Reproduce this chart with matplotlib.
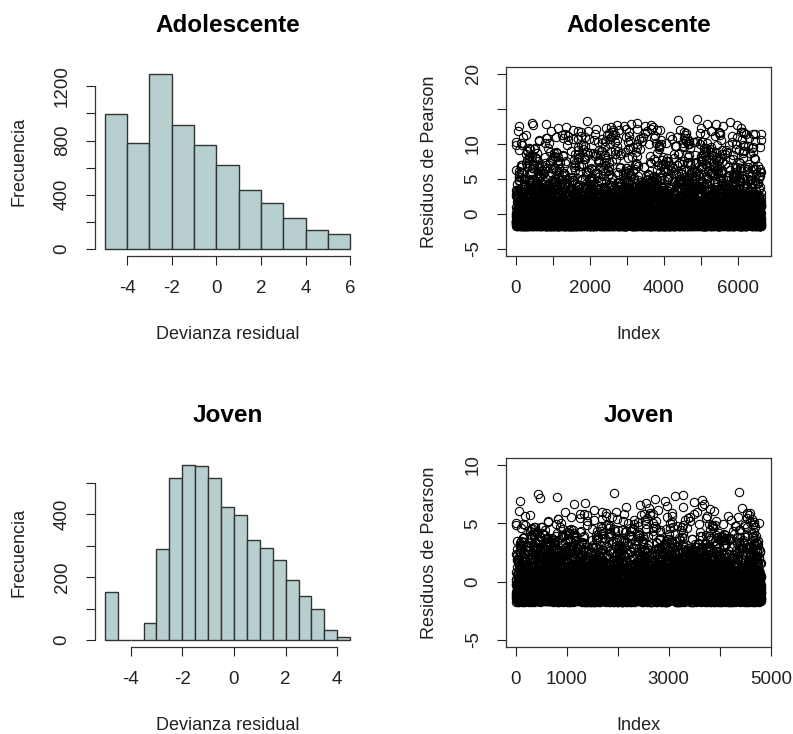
import numpy as np
import matplotlib
matplotlib.use("Agg")
import matplotlib.pyplot as plt

plt.rcParams['font.family'] = ['Liberation Sans', 'DejaVu Sans']
plt.rcParams['axes.unicode_minus'] = False

# histogram of deviance residuals, Adolescente (breaks of width 1)
adol_breaks = np.arange(-5, 7, 1)
adol_counts = [995, 782, 1291, 918, 767, 621, 433, 341, 228, 139, 109]

# histogram of deviance residuals, Joven (breaks of width 0.5)
joven_breaks = np.arange(-5, 5.0, 0.5)
joven_counts = [154, 0, 0, 54, 289, 515, 557, 553, 517, 422, 399, 319,
                293, 256, 190, 139, 99, 33, 11]

# Pearson residuals read as bands: (low, high, number of points)
adol_n = 6620
adol_bands = [(-1.75, -1, 2554), (-1, 0, 1400), (0, 1, 850), (1, 2, 520),
              (2, 3, 340), (3, 4, 230), (4, 5, 160), (5, 6, 120), (6, 7, 100),
              (7, 8, 80), (8, 9, 70), (9, 10, 60), (10, 11, 55), (11, 12, 50),
              (12, 13, 27), (13, 13.6, 4)]
joven_n = 4813
joven_bands = [(-1.75, -1, 1615), (-1, 0, 1200), (0, 1, 800), (1, 2, 480),
               (2, 3, 320), (3, 4, 200), (4, 5, 110), (5, 6, 60), (6, 7, 20),
               (7, 7.7, 8)]

HIST_COLOR = '#b7cfcf'
W, H = 793, 734


def band_values(bands, n):
    vals = np.concatenate([lo + (np.arange(c) + 0.5) / c * (hi - lo)
                           for lo, hi, c in bands])
    # spread the sorted values over the index axis in a scrambled order
    k = np.arange(len(vals), dtype=float)
    key = np.mod(k * k * 0.7548776662 + k * 0.5698402910, 1.0)
    x = np.argsort(key) + 1
    return x, vals


def style_axes(ax):
    ax.tick_params(direction='out', length=6.5, width=0.8, labelsize=13.5,
                   pad=11, colors='#222222')
    for lbl in ax.get_yticklabels():
        lbl.set_rotation(90)
        lbl.set_va('center')


def labels(ax, title, xlabel, ylabel):
    ax.text(0.5, 1 + 42 / 189, title, transform=ax.transAxes, ha='center',
            va='center', fontsize=17.5, fontweight='bold')
    ax.text(0.5, -78 / 189, xlabel, transform=ax.transAxes, ha='center',
            va='center', fontsize=13, color='#222222')
    ax.text(-76 / 265, 0.5, ylabel, transform=ax.transAxes, ha='center',
            va='center', rotation=90, fontsize=13, color='#222222')


def hist_panel(ax, breaks, counts, xticks, yticks, ylabels_every, title):
    ax.bar(breaks[:-1], counts, width=np.diff(breaks), align='edge',
           color=HIST_COLOR, edgecolor='#333333', linewidth=1.0)
    lo, hi = breaks[0], breaks[-1]
    pad = 0.04 * (hi - lo)
    ax.set_xlim(lo - pad, hi + pad)
    top = max(counts)
    ax.set_ylim(-0.04 * top, 1.04 * top)
    ax.set_xticks(xticks)
    ax.set_yticks(yticks)
    ax.set_yticklabels([str(v) if i % ylabels_every == 0 else ''
                        for i, v in enumerate(yticks)])
    for s in ['top', 'right']:
        ax.spines[s].set_visible(False)
    ax.spines['left'].set_bounds(yticks[0], yticks[-1])
    ax.spines['bottom'].set_bounds(xticks[0], xticks[-1])
    for s in ['left', 'bottom']:
        ax.spines[s].set_color('#333333')
        ax.spines[s].set_linewidth(0.9)
    style_axes(ax)
    labels(ax, title, 'Devianza residual', 'Frecuencia')


def scatter_panel(ax, n, bands, ylim, yticks, ylab, xticks, xlab, title):
    x, y = band_values(bands, n)
    ax.plot(x, y, 'o', markerfacecolor='none', markeredgecolor='black',
            markersize=6.0, markeredgewidth=0.8)
    ax.set_xlim(1 - 0.04 * (n - 1), n + 0.04 * (n - 1))
    r = ylim[1] - ylim[0]
    ax.set_ylim(ylim[0] - 0.04 * r, ylim[1] + 0.04 * r)
    ax.set_xticks(xticks)
    ax.set_xticklabels(xlab)
    ax.set_yticks(yticks)
    ax.set_yticklabels(ylab)
    for s in ax.spines.values():
        s.set_color('#333333')
        s.set_linewidth(0.9)
    style_axes(ax)
    labels(ax, title, 'Index', 'Residuos de Pearson')


fig = plt.figure(figsize=(W / 100, H / 100), dpi=100)
fig.patch.set_facecolor('white')

pw, ph = 265 / W, 189 / H
ax1 = fig.add_axes([95 / W, 1 - 256 / H, pw, ph])
ax2 = fig.add_axes([506 / W, 1 - 256 / H, pw, ph])
ax3 = fig.add_axes([95 / W, 1 - 647 / H, pw, ph])
ax4 = fig.add_axes([506 / W, 1 - 647 / H, pw, ph])

hist_panel(ax1, adol_breaks, adol_counts, [-4, -2, 0, 2, 4, 6],
           list(range(0, 1201, 200)), 2, 'Adolescente')
scatter_panel(ax2, adol_n, adol_bands, (-5, 20), [-5, 0, 5, 10, 15, 20],
              ['-5', '0', '5', '10', '', '20'], list(range(0, 6001, 1000)),
              ['0', '', '2000', '', '4000', '', '6000'], 'Adolescente')
hist_panel(ax3, joven_breaks, joven_counts, [-4, -2, 0, 2, 4],
           list(range(0, 501, 100)), 2, 'Joven')
scatter_panel(ax4, joven_n, joven_bands, (-5, 10), [-5, 0, 5, 10],
              ['-5', '0', '5', '10'], list(range(0, 5001, 1000)),
              ['0', '1000', '', '3000', '', '5000'], 'Joven')

fig.savefig('out.png', dpi=100)
